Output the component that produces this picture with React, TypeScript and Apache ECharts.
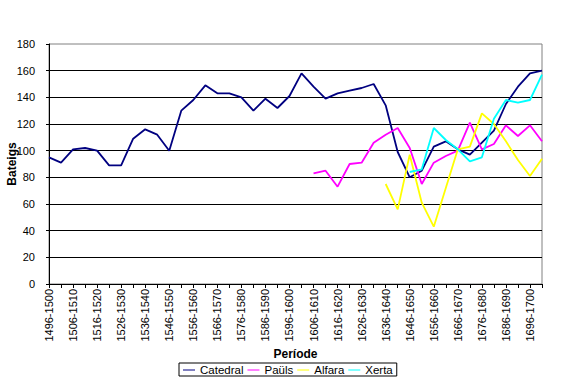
import React, { useEffect, useRef } from "react";
import * as echarts from "echarts";

const categories = [
  "1496-1500", "1501-1505", "1506-1510", "1511-1515", "1516-1520", "1521-1525",
  "1526-1530", "1531-1535", "1536-1540", "1541-1545", "1546-1550", "1551-1555",
  "1556-1560", "1561-1565", "1566-1570", "1571-1575", "1576-1580", "1581-1585",
  "1586-1590", "1591-1595", "1596-1600", "1601-1605", "1606-1610", "1611-1615",
  "1616-1620", "1621-1625", "1626-1630", "1631-1635", "1636-1640", "1641-1645",
  "1646-1650", "1651-1655", "1656-1660", "1661-1665", "1666-1670", "1671-1675",
  "1676-1680", "1681-1685", "1686-1690", "1691-1695", "1696-1700", "1701-1705",
];

const catedral = [
  95, 91, 101, 102, 100, 89, 89, 109, 116, 112, 100, 130, 138, 149, 143, 143,
  140, 130, 139, 132, 141, 158, 148, 139, 143, 145, 147, 150, 134, 99, 80, 85,
  103, 107, 101, 97, 106, 115, 135, 148, 158, 160,
];

const paulsStart = 22;
const pauls = [83, 85, 73, 90, 91, 106, 112, 117, 102, 75, 91, 96, 100, 121, 101, 105, 119, 111, 119, 107];

const alfaraStart = 28;
const alfara = [75, 56, 97, 61, 43, 72, 101, 103, 128, 120, 107, 93, 81, 94];

const xertaStart = 30;
const xerta = [84, 86, 117, 108, 101, 92, 95, 124, 138, 136, 138, 157];

const seriesNames = ["Catedral", "Paüls", "Alfara", "Xerta"];
const seriesColors = ["#000080", "#FF00FF", "#FFFF00", "#00FFFF"];

const yTicks = { min: 0, max: 180, interval: 20 };

function pad(start: number, values: number[]): (number | null)[] {
  const out: (number | null)[] = [];
  for (let i = 0; i < start; i++) out.push(null);
  return out.concat(values);
}

const FONT = "'Liberation Sans', Arial, sans-serif";

export default function App() {
  const ref = useRef<HTMLDivElement>(null);
  useEffect(() => {
    if (!ref.current) return;
    const chart = echarts.init(ref.current, undefined, { renderer: "svg" });
    const dataSets = [
      catedral,
      pad(paulsStart, pauls),
      pad(alfaraStart, alfara),
      pad(xertaStart, xerta),
    ];
    chart.setOption({
      animation: false,
      backgroundColor: "#ffffff",
      textStyle: { fontFamily: FONT },
      grid: {
        left: 49,
        right: 26,
        top: 44,
        bottom: 100,
        containLabel: false,
        outerBoundsMode: "none",
        show: true,
        borderColor: "#808080",
        borderWidth: 1,
        backgroundColor: "transparent",
      },
      legend: {
        data: seriesNames,
        left: 179,
        top: 363,
        orient: "horizontal",
        icon: "rect",
        itemWidth: 12,
        itemHeight: 1,
        itemGap: 4,
        padding: [1, 4, 0, 4],
        borderColor: "#000000",
        borderWidth: 1,
        borderRadius: 0,
        textStyle: { fontFamily: FONT, fontSize: 11.5, color: "#000", lineHeight: 12 },
      },
      xAxis: {
        type: "category",
        data: categories,
        boundaryGap: false,
        name: "Període",
        nameLocation: "middle",
        nameGap: 64,
        nameMoveOverlap: false,
        nameTextStyle: { fontFamily: FONT, fontSize: 12, fontWeight: "bold", color: "#000" },
        axisLine: { show: true, lineStyle: { color: "#000", width: 1 } },
        axisTick: { show: true, interval: 0, length: 4, inside: false, lineStyle: { color: "#000" } },
        axisLabel: {
          interval: 1,
          rotate: 90,
          margin: 5,
          fontFamily: FONT,
          fontSize: 11,
          color: "#000",
        },
        splitLine: { show: false },
      },
      yAxis: {
        type: "value",
        min: yTicks.min,
        max: yTicks.max,
        interval: yTicks.interval,
        name: "Bateigs",
        nameLocation: "middle",
        nameGap: 31,
        nameMoveOverlap: false,
        nameRotate: 90,
        nameTextStyle: { fontFamily: FONT, fontSize: 12, fontWeight: "bold", color: "#000" },
        axisLine: { show: true, lineStyle: { color: "#000", width: 1 } },
        axisTick: { show: true, length: 3, inside: false, lineStyle: { color: "#000" } },
        axisLabel: { margin: 14, fontFamily: FONT, fontSize: 11, color: "#000" },
        splitLine: {
          show: true,
          showMaxLine: false,
          lineStyle: { color: "#000", width: 1 },
        },
      },
      series: seriesNames.map((name, k) => ({
        name,
        type: "line",
        data: dataSets[k],
        symbol: "none",
        connectNulls: false,
        color: seriesColors[k],
        lineStyle: { color: seriesColors[k], width: 1.8 },
      })),
    });
    return () => chart.dispose();
  }, []);
  return (
    <div
      ref={ref}
      style={{ position: "fixed", left: 0, top: 0, width: 568, height: 384, background: "#fff" }}
    />
  );
}
